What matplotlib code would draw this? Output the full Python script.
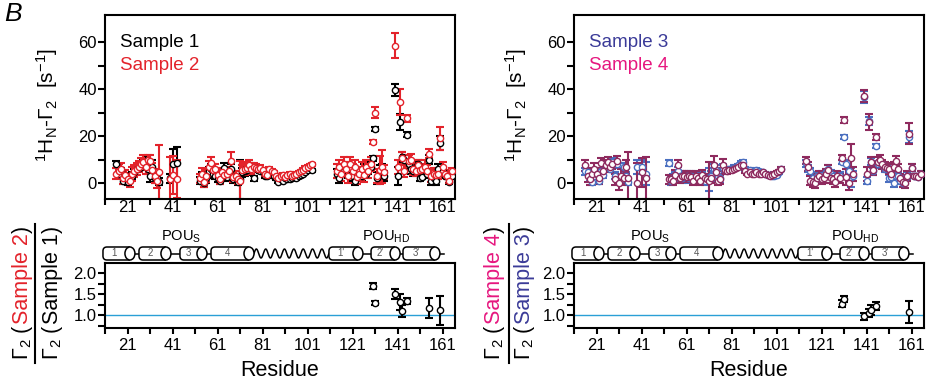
import matplotlib
matplotlib.use("Agg")
import numpy as np
import matplotlib.pyplot as plt
from matplotlib.patches import Ellipse, PathPatch
from matplotlib.path import Path
from matplotlib.lines import Line2D
from matplotlib.ticker import FixedLocator, FormatStrFormatter

plt.rcParams['font.family'] = ['Liberation Sans', 'DejaVu Sans']
plt.rcParams['mathtext.fontset'] = 'custom'
plt.rcParams['mathtext.rm'] = 'Liberation Sans'
plt.rcParams['mathtext.it'] = 'Liberation Sans:italic'
plt.rcParams['mathtext.bf'] = 'Liberation Sans:bold'

# ---------------- data ----------------
res_A12 = list(range(16, 36)) + [40, 41, 43]
res_B = list(range(53, 104))
res_C = list(range(114, 136)) + list(range(140, 166))
res_A34 = list(range(16, 36)) + [39, 41, 43]

s1_A = [8, 4, 5, 1, 3, 0.5, 2, 3, 4.5, 6, 6.5, 7, 8, 9, 6, 3, 7, 2, 2, 0.5, 2, 8, 8.4]
s1_A_err = [1.5, 1.2, 1.5, 1.5, 1.2, 1.5, 1.5, 1.5, 1.5, 1.5, 1.5, 1.5, 2, 2, 2, 2.5, 3, 2, 1.5, 1.5, 2, 6.5, 6.8]
s2_A = [4, 5, 6, 2, 3.5, 1.5, 1, 4, 5, 6, 7, 8, 9, 7, 10, 9.5, 5.5, 3, 1, 4.5, 1.5, 3.4, 1.6]
s2_A_err = [2.5, 3, 2.5, 2.5, 2, 2, 2.5, 3, 2.5, 2.5, 2.5, 2.5, 3, 3, 2, 2.5, 3, 3, 3, 11.5, 9.5, 8, 8]

s1_B = [1, 2.5, 0, 2, 5, 6, 4, 3, 2, 1,
        3, 6.5, 2.5, 4, 6, 1.5, 2, 0.5, 1.5, 4.5,
        5, 5.5, 6.5, 7, 2, 6.5, 5.5, 5, 5, 3,
        3, 5, 3.5, 3, 2, 0.5, 1.5, 1, 2, 1.5,
        1.5, 2, 2.5, 2, 3, 3.5, 4, 4.5, 5.5, 6.5,
        5.5]
s1_B_err = [1.5, 2, 1.5, 2, 2, 2, 2, 1.5, 1.5, 1.5,
            1.5, 2, 1.5, 2, 2, 1.5, 1.5, 1.5, 8.5, 2,
            2, 2, 2, 1.5, 1, 1, 1, 0.8, 0.8, 0.8,
            0.7, 0.7, 0.7, 0.6, 0.6, 0.6, 0.6, 0.6, 0.6, 0.6,
            0.6, 0.6, 0.6, 0.6, 0.6, 0.6, 0.6, 0.6, 0.6, 0.6,
            0.6]
s2_B = [2, 4, 0.5, 3, 7, 8.5, 5.5, 6, 3.5, 1.5,
        4.5, 3.5, 4, 5, 9.5, 2.5, 3, 1.5, 1, 5.5,
        6, 6.5, 7.5, 6, 7, 6.5, 6, 6.5, 5.5, 4,
        3.5, 6, 5, 4.5, 3, 2, 3, 3.5, 2.5, 3.5,
        4, 3, 3.5, 4, 4.5, 5, 5.5, 6.5, 7, 7.5,
        8]
s2_B_err = [2, 2.5, 2, 2.5, 2.5, 2.5, 2.5, 2, 2, 2,
            2, 2, 2, 2, 3.5, 2, 2, 2, 8.5, 2,
            2.5, 2.5, 2.5, 2, 1.5, 1.5, 1.2, 1, 1, 1,
            0.8, 0.8, 0.8, 0.7, 0.7, 0.7, 0.7, 0.7, 0.7, 0.7,
            0.7, 0.7, 0.7, 0.7, 0.7, 0.7, 0.7, 0.7, 0.7, 0.7,
            0.7]

s1_C = [4, 2, 6, 5, 7, 4, 6, 3, 1, 4,
        5, 3, 6, 4, 6, 7, 10.5, 23, 2, 4,
        5, 3,
        39.5, 3, 26, 11, 10, 20.5, 8, 6, 5, 7,
        8, 2, 2.5, 5, 4, 10, 1, 2, 1, 6,
        17, 5, 3, 3, 0.5, 3]
s1_C_err = [2, 2, 2, 2, 2, 2, 2, 2, 2, 2,
            2, 2, 2, 2, 2, 2, 1, 1, 2.5, 3.5,
            3, 2,
            2.5, 4, 3.3, 2, 2, 1, 2, 2, 2, 2,
            2, 1, 1, 2, 2, 2, 2, 2, 2, 2,
            2.8, 1.5, 1, 1, 1, 1.5]
s2_C = [5, 7, 4, 8, 6, 3, 8, 5, 7, 2.5,
        4, 6, 3.5, 7, 5, 8, 17.5, 30, 3, 5.5,
        7, 4.5,
        58.5, 7, 34.5, 10.5, 5, 27.5, 9.5, 10, 6, 5,
        7.5, 5.5, 6, 7, 5, 12.5, 3, 4, 3.5, 4,
        19, 7, 4, 3, 1, 5]
s2_C_err = [3, 3, 3, 3, 3, 3, 3, 3, 3, 3,
            3, 3, 3, 3, 3, 3, 1, 2.5, 3, 6,
            7, 3,
            5.5, 3, 5.5, 2.5, 2.5, 1.5, 2.5, 2.5, 2.5, 2,
            2.5, 2, 2, 3, 2.5, 2, 2.5, 2.5, 2.5, 2.5,
            5, 2, 1.5, 1.5, 1, 1.5]

s3_A = [5, 4.8, 2.5, 0.5, 3, 4, 1, 5, 3.5, 7, 7.5, 6, 9, 3, 8, 1, 1.5, 7, 3, 0.5, 7, 7, 4]
s3_A_err = [1.5] * 20 + [3, 3, 5]
s4_A = [7.5, 3, 1.5, 4, 6, 4, 2, 8.5, 5, 7.5, 9, 7, 8, 1.5, 9.5, 0, 3, 2, 7, 2, 0, 4.5, 2]
s4_A_err = [2.5, 2.5, 2.5, 2.5, 2.5, 2.5, 2.5, 2, 2.5, 2.5, 2, 2.5, 2, 2.5, 2, 3, 3, 3, 3, 11, 8.5, 6, 9]

s3_B = [8.5, 1, 2, 2.5, 5, 3, 2, 2.5, 3, 2,
        3, 2, 2.5, 1.5, 2, 2.5, 1, 2, 1.5, 3,
        6, 5.5, 3, 2, 6.5, 5.5, 5.5, 6, 6, 6.5,
        7, 7.5, 8.5, 9, 6, 5, 5.5, 4.5, 5, 5.5,
        5, 4.5, 4.5, 4, 3.5, 3.5, 3, 3, 3.5, 4.5,
        6]
s3_B_err = [1.3, 2, 2, 2, 2, 2, 2, 2, 2, 2,
            2, 2, 2, 2, 2, 2, 2, 2, 5, 2,
            2, 2, 2, 2, 1.5, 1, 1, 1, 1, 1,
            0.8, 0.8, 0.8, 0.8, 0.7, 0.7, 0.7, 0.7, 0.7, 0.7,
            0.7, 0.7, 0.7, 0.7, 0.7, 0.7, 0.7, 0.7, 0.7, 0.7,
            0.7]
s4_B = [1.5, 1.5, 1, 3.5, 7.5, 2, 3, 3, 2.5, 3,
        2.5, 1, 3, 2, 1, 3.5, 2, 1.5, 1, 2,
        7.7, 4.5, 1, 1.5, 7.7, 5.5, 5, 5.5, 5.5, 6,
        6.5, 7, 7.5, 7.5, 5, 4, 4.5, 4, 4, 4.5,
        4, 4, 4.5, 4, 3.5, 3, 3.5, 4, 4.5, 5,
        6]
s4_B_err = [2, 2, 2, 2, 2.5, 2, 2, 2, 2, 2,
            2, 2, 2, 2, 2, 2, 2, 2, 8, 2,
            3.8, 2, 2, 2, 2.5, 1.5, 1, 1, 1, 1,
            0.8, 0.8, 0.8, 0.8, 0.7, 0.7, 0.7, 0.7, 0.7, 0.7,
            0.7, 0.7, 0.7, 0.7, 0.7, 0.7, 0.7, 0.7, 0.7, 0.7,
            0.7]

s3_C = [8.5, 6, 5, 2, 1, 3, 2, 3.5, 3, 4.5,
        6, 4, 3, 2, 2, 3, 9, 19.7, 8, 5,
        2.5, 3,
        36.5, 1, 26.5, 9, 5, 15.7, 8, 8.5, 8, 6,
        6, 2, 2.5, 0, 3, 3, 1, 0, 2, 3,
        19.5, 6.5, 3, 3, 2.5, 4]
s3_C_err = [1.5] * 16 + [1, 0.8, 2, 2,
            4, 2,
            2.5, 1.5, 1.8, 1.5, 1.5, 0.8, 1.5, 1.5, 1.5, 1.5,
            1.5, 1.5, 1.5, 1.5, 1.5, 1.5, 1.5, 1.5, 1.5, 1.5,
            2.5, 1.5, 1, 1, 1, 1]
s4_C = [9.5, 7, 1, 0.5, 0, 2, 3, 1.5, 2, 4,
        5.5, 2, 1.5, 0.5, 3, 2, 10.8, 27, 2.5, 0,
        10.5, 4,
        37, 4, 26, 9, 5.5, 19.7, 9, 10, 8, 7,
        6.5, 6, 4, 7, 9.5, 6, 2, 0.5, 0, 3,
        21, 6.5, 3, 3, 2.5, 4]
s4_C_err = [1.5, 2, 2, 2, 2, 2, 2, 2, 2, 2,
            2, 2, 2, 2, 2, 2, 1, 1.3, 3.5, 3,
            6, 3,
            2.5, 3, 3.5, 2, 2, 1.2, 2, 2, 2, 2,
            2, 2, 2, 2, 2, 2, 2, 2, 2, 2,
            4.5, 1.5, 1, 1, 1, 1]

ratio12_res = [130, 131, 140, 142, 143, 145, 155, 160]
ratio12_val = [1.7, 1.3, 1.5, 1.32, 1.1, 1.35, 1.18, 1.12]
ratio12_err = [0.08, 0.05, 0.12, 0.2, 0.14, 0.07, 0.24, 0.34]
ratio34_res = [130, 131, 140, 142, 143, 145, 160]
ratio34_val = [1.28, 1.38, 0.98, 1.05, 1.13, 1.22, 1.08]
ratio34_err = [0.08, 0.07, 0.08, 0.1, 0.12, 0.09, 0.26]

# secondary structure (residue start, end, label)
helices = [(10.1, 24.3, '1'), (26.1, 40.3, '2'), (44.3, 56.3, '3'), (58.1, 77.2, '4'),
           (110.5, 125.6, "1'"), (129.2, 142.1, "2'"), (143.4, 159.8, "3'")]
tail_end = 161.6
domain_labels = [(44.6, 'POU$_{\\mathrm{S}}$'), (135.8, 'POU$_{\\mathrm{HD}}$')]

x_major = list(range(21, 162, 20))
x_minor = list(range(11, 167, 20))
x_ticklabels = [str(v) for v in x_major]

# ---------------- styling ----------------
RED = '#e3232b'
BLUE_D = '#4a6fc0'
PURP_D = '#8e2a5e'
BLUE_T = '#3b3b98'
PINK_T = '#e6177f'
HLINE = '#2a9fd6'

W, H = 928, 381
fig = plt.figure(figsize=(W / 100, H / 100), dpi=100)
XL = (11, 166.5)
PXU = 350 / (XL[1] - XL[0])


def fx(px):
    return px / W


def fy(py):
    return 1 - py / H


def style_spines(ax):
    for s in ax.spines.values():
        s.set_linewidth(1.5)


def series(ax, res, val, err, col):
    ax.errorbar(res, val, yerr=err, fmt='none', ecolor=col, elinewidth=1.5,
                capsize=3, capthick=1.5, zorder=2)
    ax.plot(res, val, 'o', ms=4.5, mfc='white', mec=col, mew=1.0, zorder=3,
            linestyle='none')


def top_panel(left_px, sets, legend):
    ax = fig.add_axes([fx(left_px), fy(199), 350 / W, 184 / H])
    ax.set_xlim(*XL)
    ax.set_ylim(-6.8, 71.5)
    style_spines(ax)
    for res, val, err, col in sets:
        series(ax, res, val, err, col)
    ax.xaxis.set_major_locator(FixedLocator(x_major))
    ax.xaxis.set_minor_locator(FixedLocator(x_minor))
    ax.set_xticklabels(x_ticklabels)
    ax.yaxis.set_major_locator(FixedLocator([0, 20, 40, 60]))
    ax.yaxis.set_minor_locator(FixedLocator([10, 30, 50]))
    ax.tick_params(axis='x', which='major', length=0, pad=1, labelsize=12)
    ax.tick_params(axis='x', which='minor', length=4.5, width=1.5, direction='out')
    ax.tick_params(axis='y', which='both', length=4.7, width=1.5, direction='out',
                   pad=1, labelsize=12)
    for i, (txt, col) in enumerate(legend):
        ax.text(0.043, 0.848 - i * 0.12, txt, color=col, fontsize=13.5,
                transform=ax.transAxes, ha='left', va='center')
    fig.text(fx(left_px - 58), fy(105), '$^{1}$H$_{\\mathrm{N}}$-Γ$_{2}$  [s$^{-1}$]',
             rotation=90, ha='center', va='center', fontsize=15)
    return ax


def ratio_panel(left_px, res, val, err):
    ax = fig.add_axes([fx(left_px), fy(328), 350 / W, 65 / H])
    ax.set_xlim(*XL)
    ax.set_ylim(0.70, 2.245)
    style_spines(ax)
    ax.axhline(1.0, color=HLINE, lw=1.0, zorder=1)
    ax.errorbar(res, val, yerr=err, fmt='none', ecolor='k', elinewidth=1.5,
                capsize=3, capthick=1.5, zorder=2)
    ax.plot(res, val, 'o', ms=4.5, mfc='white', mec='k', mew=1.0, zorder=3,
            linestyle='none')
    ax.xaxis.set_major_locator(FixedLocator(x_major))
    ax.xaxis.set_minor_locator(FixedLocator(x_minor))
    ax.set_xticklabels(x_ticklabels)
    ax.yaxis.set_major_locator(FixedLocator([1.0, 1.5, 2.0]))
    ax.yaxis.set_minor_locator(FixedLocator([0.75, 1.25, 1.75]))
    ax.yaxis.set_major_formatter(FormatStrFormatter('%.1f'))
    ax.tick_params(axis='x', which='both', length=4.5, width=1.5, direction='out',
                   pad=3, labelsize=12)
    ax.tick_params(axis='y', which='both', length=5, width=1.5, direction='out',
                   pad=1, labelsize=12)
    fig.text(fx(left_px + 175), fy(370), 'Residue', ha='center', va='center',
             fontsize=15.5)
    return ax


def cartoon(left_px):
    hpx = 19
    ax = fig.add_axes([fx(left_px), fy(262), 350 / W, hpx / H])
    ax.set_xlim(*XL)
    ax.set_ylim(0, hpx / PXU)
    ax.axis('off')
    cy = 8.5 / PXU
    hh = 6.5 / PXU
    ew = 10 / PXU
    r = 4 / PXU
    lw = 1.1
    for i, (x0, x1, lab) in enumerate(helices):
        xe = x1 - ew / 2
        yt, yb = cy + hh, cy - hh
        verts = [(xe, yt), (x0 + r, yt), (x0, yt), (x0, yt - r), (x0, yb + r),
                 (x0, yb), (x0 + r, yb), (xe, yb)]
        codes = [Path.MOVETO, Path.LINETO, Path.CURVE3, Path.CURVE3, Path.LINETO,
                 Path.CURVE3, Path.CURVE3, Path.LINETO]
        ax.add_patch(PathPatch(Path(verts, codes), fc='white', ec='k', lw=lw,
                               clip_on=False, zorder=2))
        ax.add_patch(Ellipse((xe, cy), ew, 2 * hh, fc='white', ec='k', lw=lw,
                             clip_on=False, zorder=3))
        ax.text((x0 + xe - ew / 2) / 2, cy, lab, fontsize=7, color='#555555',
                ha='center', va='center', zorder=4)
        if i + 1 < len(helices):
            nx0 = helices[i + 1][0]
            if lab == '4':
                xs = np.linspace(x1, nx0, 400)
                ys = cy + 4.5 / PXU * np.sin(2 * np.pi * (xs - x1) / ((nx0 - x1) / 8))
                ax.plot(xs, ys, 'k-', lw=lw, clip_on=False, zorder=1)
            else:
                ax.plot([x1, nx0], [cy, cy], 'k-', lw=lw, clip_on=False, zorder=1)
        else:
            ax.plot([x1, tail_end], [cy, cy], 'k-', lw=lw, clip_on=False, zorder=1)
    for xr, lab in domain_labels:
        ax.text(xr, 25 / PXU, lab, fontsize=10.5, ha='center', va='center',
                clip_on=False)
    return ax


def rot_parts(x_px, yc_px, parts, fs):
    renderer = fig.canvas.get_renderer()
    ts = []
    for s, c in parts:
        t = fig.text(0, 0, s, rotation=90, rotation_mode='anchor', ha='left',
                     va='baseline', color=c, fontsize=fs)
        ts.append(t)
    lens = [t.get_window_extent(renderer).height for t in ts]
    total = sum(lens)
    y = (H - yc_px) - total / 2
    for t, L in zip(ts, lens):
        t.set_position((x_px / W, y / H))
        y += L


def frac_label(x_num, x_line, x_den, num_parts, den_parts):
    rot_parts(x_num, 293, num_parts, 15.5)
    rot_parts(x_den, 293, den_parts, 15.5)
    fig.add_artist(Line2D([fx(x_line), fx(x_line)], [fy(224), fy(363)],
                          color='k', lw=1.5))


# ---------------- build ----------------
resL = res_A12 + res_B + res_C
resR = res_A34 + res_B + res_C

top_panel(105, [(resL, s1_A + s1_B + s1_C, s1_A_err + s1_B_err + s1_C_err, 'black'),
                (resL, s2_A + s2_B + s2_C, s2_A_err + s2_B_err + s2_C_err, RED)],
          [('Sample 1', 'black'), ('Sample 2', RED)])
top_panel(574, [(resR, s3_A + s3_B + s3_C, s3_A_err + s3_B_err + s3_C_err, BLUE_D),
                (resR, s4_A + s4_B + s4_C, s4_A_err + s4_B_err + s4_C_err, PURP_D)],
          [('Sample 3', BLUE_T), ('Sample 4', PINK_T)])

ratio_panel(105, ratio12_res, ratio12_val, ratio12_err)
ratio_panel(574, ratio34_res, ratio34_val, ratio34_err)

cartoon(105)
cartoon(574)

frac_label(28, 35, 58,
           [('Γ$_{2}$ (', 'black'), ('Sample 2', RED), (')', 'black')],
           [('Γ$_{2}$ (', 'black'), ('Sample 1', 'black'), (')', 'black')])
frac_label(500, 509, 530,
           [('Γ$_{2}$ (', 'black'), ('Sample 4', PINK_T), (')', 'black')],
           [('Γ$_{2}$ (', 'black'), ('Sample 3', BLUE_T), (')', 'black')])

fig.text(fx(4), fy(14), 'B', fontsize=19, fontstyle='italic', ha='left', va='center')

fig.savefig('out.png', dpi=100)
